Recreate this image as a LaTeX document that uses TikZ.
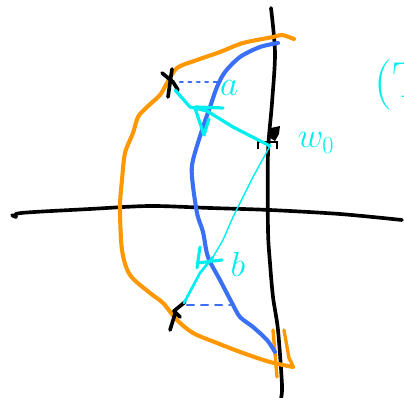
\documentclass[tikz,border=0pt]{standalone}
\usepackage{tikz}

\definecolor{penorange}{RGB}{255,152,0}
\definecolor{penblue}{RGB}{58,112,245}
\definecolor{pencyan}{RGB}{0,238,240}

\tikzset{
    pen/.style = {line width=2.6pt, line cap=round, line join=round},
    ink/.style = {text=pencyan, inner sep=0pt},
}

\begin{document}
\begin{tikzpicture}[x=0.025cm, y=-0.025cm]
    \useasboundingbox (0,0) rectangle (404,398);

    \coordinate (markA) at (174,88);
    \coordinate (markB) at (184,303);
    \coordinate (wzero) at (270,146);
    \coordinate (dotA) at (220,82);
    \coordinate (dotB) at (230,305);

    % axes
    \draw[pen, black] plot[smooth] coordinates {(12,215) (16,217) (21,213) (90,209) (150,206) (210,208) (270,210) (340,214) (402,220)};
    \draw[pen, black] plot[smooth] coordinates {(271,8) (275,53) (272,103) (268,153) (268,230) (270,263) (273,297) (278,330) (282,385) (281,398)};

    % orange and blue curves
    \draw[pen, penorange, line width=2.9pt] plot[smooth] coordinates {(294,39) (282,35) (273,37) (243,43) (220,52) (197,60) (177,68) (167,83) (160,95) (147,107) (138,117) (133,133) (125,153) (122,180) (120,207) (122,250) (130,275) (150,293) (163,303) (177,320) (193,333) (217,343) (243,353) (270,362) (293,367)};
    \draw[pen, penorange, line width=2.4pt] (273,330) -- (277,377);
    \draw[pen, penorange, line width=2.4pt] (284,330) -- (289,358) -- (293,366);
    \draw[pen, penblue, line width=2.9pt] plot[smooth] coordinates {(278,43) (260,47) (240,57) (225,72) (217,87) (210,107) (203,127) (193,160) (192,177) (197,213) (203,232) (208,257) (220,280) (232,303) (240,317) (253,327) (267,340) (275,352)};

    % marks
    \draw[pen, black] (162,73) -- (173,82) -- (178,90);
    \draw[pen, black] (172,69) -- (168,97);
    \draw[pen, black] (185,302) -- (174,311) -- (180,317);
    \draw[pen, black] (175,314) -- (170,330);
    \draw[black, line width=0.8pt] (258,149) -- (258,142) -- (277,142) -- (277,149);
    \fill[black] (271,128) -- (280,126) -- (279,134) -- (275,141) -- (270,138) -- cycle;

    % dotted and dashed guides
    \draw[penblue, line width=1.6pt, line cap=round, dash pattern=on 2pt off 4pt] (markA) ++(6,-6) -- (dotA);
    \draw[penblue, line width=1.6pt, line cap=round, dash pattern=on 5pt off 5pt] (markB) ++(3,2) -- (dotB);

    % cyan rays
    \draw[pen, pencyan, line width=2.3pt] (markA) ++(1,2) -- (190,107) -- (207,111) -- (233,127) -- (wzero);
    \draw[pen, pencyan, line width=2.3pt] (195,107) -- (223,108);
    \draw[pen, pencyan, line width=2.3pt] (195,108) -- (204,135) -- (209,119);
    \draw[pencyan, line width=1pt] (wzero) -- (253,177) -- (233,217) -- (223,240) -- (213,257);
    \draw[pen, pencyan, line width=1.9pt] (213,257) -- (200,273) -- (markB);
    \draw[pen, pencyan, line width=2.2pt] (200,247) -- (197,268);
    \draw[pen, pencyan, line width=2.2pt] (197,263) -- (222,260);

    % labels
    \node[ink, font=\fontsize{30}{34}\selectfont] (la) at (229,88) {$a$};
    \node[ink, font=\fontsize{23}{27}\selectfont] (lb) at (238,264) {$b$};
    \node[ink, font=\fontsize{24}{28}\selectfont] (lw) at (316,143) {$w_0$};
    \begin{scope}
        \clip (0,0) rectangle (404,398);
        \node[ink, font=\fontsize{36}{40}\selectfont, anchor=west] (lT) at (374,85) {(T};
    \end{scope}
\end{tikzpicture}
\end{document}
